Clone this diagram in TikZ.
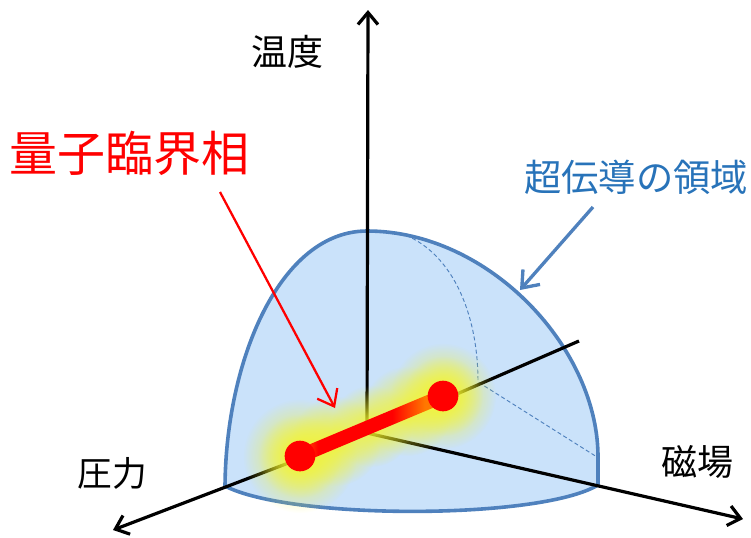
\documentclass[tikz,border=0pt]{standalone}
\usepackage{fontspec}
\newfontfamily\jp{Noto Sans CJK JP}
\usetikzlibrary{arrows.meta,fadings,calc}
\definecolor{domeline}{RGB}{79,129,189}
\definecolor{domefill}{RGB}{202,226,250}
\definecolor{txtblue}{RGB}{40,115,185}
\definecolor{barorange}{RGB}{255,120,0}
\definecolor{glowyellow}{RGB}{245,245,40}
\tikzfading[name=softblob, inner color=transparent!0, outer color=transparent!100]
\pgfdeclarehorizontalshading{barshade}{100bp}{color(0bp)=(barorange); color(25bp)=(barorange); color(32bp)=(red); color(57bp)=(red); color(68bp)=(barorange); color(100bp)=(barorange)}
\begin{document}
\begin{tikzpicture}[x=0.75pt,y=-0.75pt,
  axisline/.style={line width=2.4pt, black},
  axisarrow/.style={axisline, -{Straight Barb[length=9pt,width=15pt]}},
  domeedge/.style={draw=domeline, line width=2.7pt, line join=round},
  hidden/.style={draw=domeline, line width=0.7pt, dash pattern=on 3pt off 2pt},
  blob/.style={fill=glowyellow, path fading=softblob},
  dot/.style={fill=red, circle, minimum size=23pt, inner sep=0pt},
  lbl/.style={inner sep=0pt, text=black},
  pointer/.style={-{Straight Barb[length=11pt,width=17pt]}}
]
\useasboundingbox (0,0) rectangle (751,537);

% axes coordinates
\coordinate (O) at (367,433);
\coordinate (Ttop) at (368,10);
\coordinate (Pback) at (579,341);
\coordinate (Ptip) at (113,530);
\coordinate (Mtip) at (743,519);

% dome
\coordinate (L) at (225,486);
\coordinate (T) at (367,231);
\coordinate (Rs) at (598,460);
\coordinate (R) at (598,485);
\fill[domefill] (L) .. controls (226,360) and (280,231) .. (T)
  .. controls (490,231) and (600,350) .. (Rs) -- (R)
  .. controls (540,520) and (290,520) .. (L) -- cycle;

% hidden quarter lines
\coordinate (Dt) at (400,233);
\coordinate (Dm) at (478,382);
\coordinate (Dr) at (597,457);
\draw[hidden] (Dt) .. controls (450,250) and (478,310) .. (Dm) -- (Dr);

% dome outline
\draw[domeedge] (L) .. controls (226,360) and (280,231) .. (T)
  .. controls (490,231) and (600,350) .. (Rs) -- (R)
  .. controls (540,520) and (290,520) .. (L) -- cycle;

% axes
\draw[axisarrow] (O) -- (Ttop);
\draw[axisline] (O) -- (Pback);
\draw[axisarrow] (O) -- (Ptip);
\draw[axisarrow] (O) -- (Mtip);

% quantum critical phase bar with glow
\coordinate (A) at (300,456);
\coordinate (B) at (443,396);
\begin{scope}[transparency group, opacity=0.92]
  \fill[blob] (A) circle (57);
  \fill[blob] (B) circle (53);
  \fill[blob] ($(A)!0.25!(B)$) circle (45);
  \fill[blob] ($(A)!0.5!(B)$) circle (41);
  \fill[blob] ($(A)!0.75!(B)$) circle (45);
  \fill[blob] (A) circle (42);
  \fill[blob] (B) circle (40);
\end{scope}
\shade[shading=barshade] (302.7,462.5) -- (445.7,402.5) -- (440.3,389.5) -- (297.3,449.5) -- cycle;
\node[dot] (dA) at (A) {};
\node[dot] (dB) at (B) {};

% labels
\node[lbl, font=\jp\fontsize{27pt}{30pt}\selectfont] (temp) at (287,52) {温度};
\node[lbl, font=\jp\fontsize{26pt}{30pt}\selectfont] (pres) at (112,473) {圧力};
\node[lbl, font=\jp\fontsize{27pt}{30pt}\selectfont] (mag) at (697,462) {磁場};
\node[lbl, text=red, font=\jp\fontsize{36pt}{40pt}\selectfont] (qcp) at (130,153) {量子臨界相};
\node[lbl, text=txtblue, font=\jp\fontsize{28pt}{32pt}\selectfont] (sc) at (636,177) {超伝導の領域};

% pointers
\coordinate (qa) at (220,192);
\coordinate (qb) at (335,408);
\draw[pointer, red, line width=1.7pt] (qa) -- (qb);
\coordinate (sa) at (593,207);
\coordinate (sb) at (520,290);
\draw[pointer, domeline, line width=2.5pt] (sa) -- (sb);
\end{tikzpicture}
\end{document}
